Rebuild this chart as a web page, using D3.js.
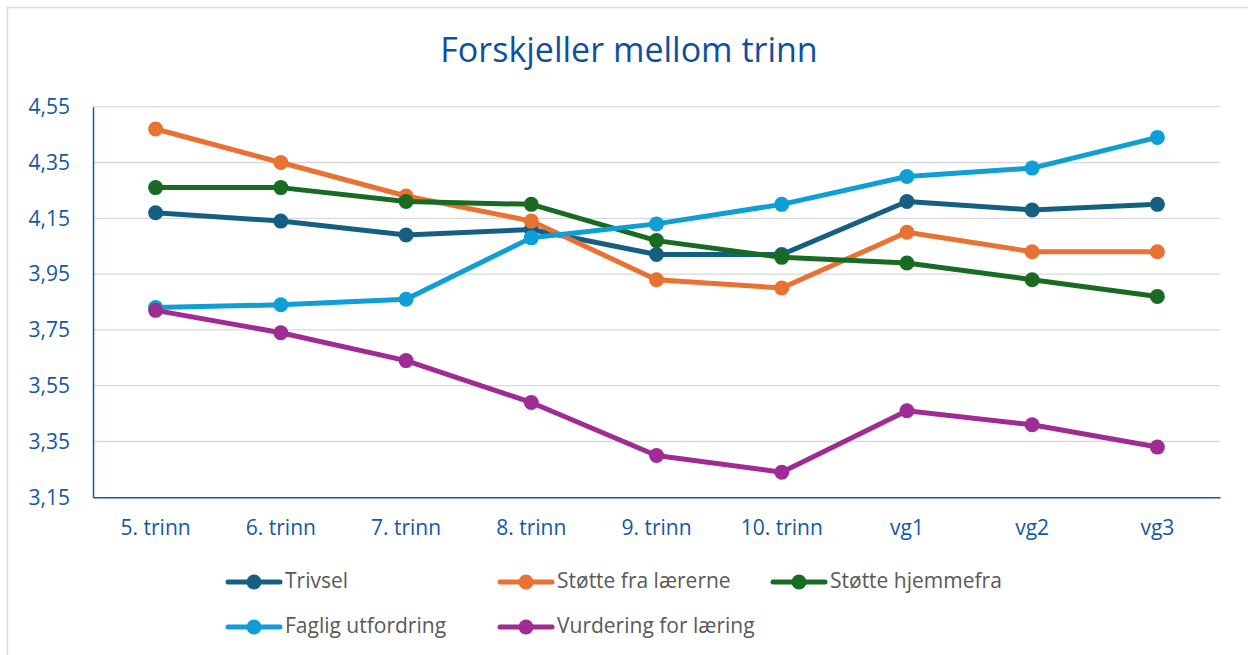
<!DOCTYPE html>
<html><head><meta charset="utf-8">
<script src="https://cdn.jsdelivr.net/npm/d3@7"></script>
<style>
html,body{margin:0;padding:0;background:#fff;}
svg{display:block;}
</style></head>
<body>
<svg id="c" width="1248" height="655"></svg>
<script>
const categories = ["5. trinn","6. trinn","7. trinn","8. trinn","9. trinn","10. trinn","vg1","vg2","vg3"];
const seriesNames = ["Trivsel","Støtte fra lærerne","Støtte hjemmefra","Faglig utfordring","Vurdering for læring"];
const trivsel = [4.17,4.14,4.09,4.11,4.02,4.02,4.21,4.18,4.20];
const stotteLaerere = [4.47,4.35,4.23,4.14,3.93,3.90,4.10,4.03,4.03];
const stotteHjem = [4.26,4.26,4.21,4.20,4.07,4.01,3.99,3.93,3.87];
const fagligUtfordring = [3.83,3.84,3.86,4.08,4.13,4.20,4.30,4.33,4.44];
const vurdering = [3.82,3.74,3.64,3.49,3.30,3.24,3.46,3.41,3.33];
const yTicks = [3.15,3.35,3.55,3.75,3.95,4.15,4.35,4.55];
const colors = ["#156082","#E97132","#196B24","#0F9ED5","#A02B93"];

(function(){
const allSeries = [trivsel, stotteLaerere, stotteHjem, fagligUtfordring, vurdering];
const svg = d3.select("#c");
const blue = "#1458a6";
const font = "'Open Sans', 'Noto Sans', sans-serif";

// chart frame
svg.append("rect").attr("x",7.5).attr("y",7.5).attr("width",1260).attr("height",660)
  .attr("fill","#fff").attr("stroke","#d9d9d9").attr("stroke-width",1.5);

const pLeft = 93, pRight = 1220, pTop = 106.7, pBottom = 497.3;
const x = d3.scaleBand().domain(categories).range([pLeft,pRight]);
const y = d3.scaleLinear().domain([3.15,4.55]).range([pBottom,pTop]);

svg.append("text").attr("x",629).attr("y",62).attr("text-anchor","middle")
  .attr("font-family",font).attr("font-size",34)
  .attr("fill","#0E4F9E").text("Forskjeller mellom trinn");

// gridlines
svg.append("g").selectAll("line").data(yTicks.slice(1)).join("line")
  .attr("x1",pLeft).attr("x2",pRight).attr("y1",d=>y(d)).attr("y2",d=>y(d))
  .attr("stroke","#d9d9d9").attr("stroke-width",1.3);

// y axis
const yAxis = svg.append("g").attr("transform",`translate(${pLeft},0)`)
  .call(d3.axisLeft(y).tickValues(yTicks).tickSize(0).tickPadding(23)
    .tickFormat(d=>d3.format(".2f")(d).replace(".",",")));
yAxis.select(".domain").attr("stroke",blue).attr("stroke-width",1.5);
yAxis.selectAll("text").attr("font-family",font).attr("font-size",21).attr("fill",blue);

// x axis
const xAxis = svg.append("g").attr("transform",`translate(0,${pBottom})`)
  .call(d3.axisBottom(x).tickSize(0).tickPadding(23));
xAxis.select(".domain").attr("stroke",blue).attr("stroke-width",1.5);
xAxis.selectAll("text").attr("font-family",font).attr("font-size",21).attr("fill",blue);

const cx = c => x(c) + x.bandwidth()/2;
const line = d3.line().x((d,i)=>cx(categories[i])).y(d=>y(d));

allSeries.forEach((s,k)=>{
  const g = svg.append("g");
  g.append("path").datum(s).attr("d",line).attr("fill","none")
    .attr("stroke",colors[k]).attr("stroke-width",5).attr("stroke-linejoin","round");
  g.selectAll("circle").data(s).join("circle")
    .attr("cx",(d,i)=>cx(categories[i])).attr("cy",d=>y(d)).attr("r",7.5).attr("fill",colors[k]);
});

// legend
const legendPos = [[226,582],[498,582],[771,582],[226,627],[498,627]];
seriesNames.forEach((n,k)=>{
  const [lx,ly] = legendPos[k];
  const g = svg.append("g");
  g.append("line").attr("x1",lx+2).attr("x2",lx+54).attr("y1",ly).attr("y2",ly)
    .attr("stroke",colors[k]).attr("stroke-width",5).attr("stroke-linecap","round");
  g.append("circle").attr("cx",lx+28).attr("cy",ly).attr("r",7.5).attr("fill",colors[k]);
  g.append("text").attr("x",lx+59).attr("y",ly+6).attr("font-family",font)
    .attr("font-size",21).attr("fill","#595959").text(n);
});
})();
</script>
</body></html>
